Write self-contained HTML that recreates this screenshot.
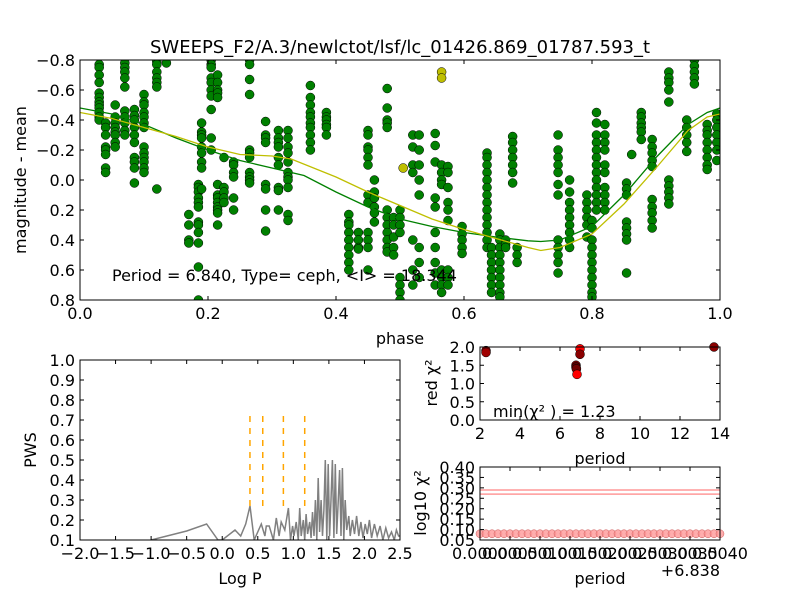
<!DOCTYPE html>
<html><head><meta charset="utf-8"><style>
body{margin:0;background:#fff;}
svg{display:block;font-family:"DejaVu Sans","Liberation Sans",sans-serif;}
text{fill:#000;}
</style></head><body>
<svg id="fig" width="800" height="600" viewBox="0 0 800 600"></svg>
<script>
// ---------- DATA ----------
const clusterPhases=[0.03,0.04,0.055,0.07,0.085,0.1,0.12,0.135,0.17,0.185,0.19,0.205,0.215,0.225,0.24,0.265,0.29,0.31,0.325,0.36,0.385,0.42,0.435,0.45,0.46,0.48,0.49,0.5,0.52,0.53,0.555,0.565,0.575,0.597,0.636,0.643,0.656,0.665,0.676,0.683,0.747,0.765,0.792,0.8,0.807,0.82,0.854,0.862,0.877,0.894,0.92,0.948,0.96,0.98,0.995];
const clusterMags=[
[-0.77,-0.75,-0.7,-0.65,-0.58,-0.55,-0.52,-0.5,-0.48,-0.45,-0.42,-0.4],
[-0.38,-0.35,-0.3,-0.22,-0.2,-0.17,-0.08,-0.05],
[-0.5,-0.42,-0.38,-0.35,-0.32,-0.3,-0.25,-0.22],
[-0.78,-0.75,-0.72,-0.68,-0.62,-0.46,-0.42,-0.38,-0.33,-0.3],
[-0.47,-0.43,-0.4,-0.35,-0.3,-0.25,-0.15,-0.12,-0.08,0.02],
[-0.57,-0.52,-0.5,-0.45,-0.42,-0.38,-0.35,-0.22,-0.18,-0.15,-0.12,-0.08,-0.05],
[-0.79,-0.77,-0.72,-0.68,-0.65,-0.62,0.06],
[-0.78],
[0.23,0.3,0.4,0.42],
[0.03,0.05,0.08,0.12,0.15,0.18,0.28,0.3,0.35,0.42,0.58,0.8],
[-0.38,-0.32,-0.3,-0.28,-0.22,-0.18,-0.12,-0.08,0.06],
[-0.8,-0.77,-0.75,-0.68,-0.65,-0.6,-0.56,-0.47,-0.28,-0.2],
[-0.7,-0.65,-0.6,-0.58,-0.55,0.03,0.1,0.12,0.15,0.18,0.2,0.22,0.3],
[-0.15,0.05,0.08,0.12,0.15],
[-0.12,-0.1,-0.05,-0.02,0.12,0.2],
[-0.8,-0.77,-0.67,-0.57,-0.2,-0.18,-0.15,-0.05,-0.02,0,0.02],
[-0.39,-0.3,-0.28,-0.25,0.03,0.06,0.2,0.34],
[-0.33,-0.28,-0.25,-0.22,-0.15,-0.1,0.05,0.07,0.2],
[-0.33,-0.28,-0.22,-0.18,-0.12,-0.05,-0.02,0,0.05,0.23,0.27],
[-0.63,-0.55,-0.5,-0.45,-0.42,-0.38,-0.35,-0.3,-0.25,-0.2],
[-0.45,-0.42,-0.4,-0.37,-0.35,-0.3],
[0.23,0.28,0.3,0.35,0.4,0.45,0.5,0.55,0.6],
[0.35,0.4,0.45,0.46],
[-0.33,-0.3,-0.22,-0.2,-0.15,-0.1,0.1,0.15,0.35,0.4,0.45,0.6],
[0,0.08,0.12,0.18,0.22,0.28],
[-0.61,-0.48,-0.4,-0.38,-0.35,0.2,0.25,0.3,0.35,0.4,0.45,0.48],
[0.25,0.3,0.38,0.45,0.5],
[0.2,0.25,0.3,0.35,0.65,0.7,0.75,0.8],
[-0.3,-0.22,-0.1,-0.05,0.4,0.6,0.7],
[-0.3,-0.2,-0.1,0,0.1,0.45,0.55,0.65],
[-0.31,-0.23,-0.12,0.12,0.18,0.35,0.45,0.55,0.62,0.7],
[-0.1,-0.05,0,0.03,0.6,0.65,0.7,0.75],
[-0.09,-0.05,0.05,0.15,0.2,0.27,0.6,0.65,0.7],
[0.31,0.36,0.4,0.45,0.49],
[-0.18,-0.15,-0.1,-0.05,0,0.05,0.1,0.15,0.2,0.25,0.3,0.35,0.4,0.45],
[0.45,0.5,0.55,0.6,0.65,0.7,0.75],
[0.36,0.4,0.45,0.5,0.55,0.6,0.65,0.7,0.75,0.78],
[0.4,0.43,0.45],
[-0.29,-0.25,-0.2,-0.15,-0.1,-0.05,0.02],
[0.45,0.5,0.55],
[-0.3,-0.2,-0.15,-0.1,-0.05,0.03,0.1,0.4,0.45,0.5,0.55,0.62],
[0,0.08,0.15,0.2,0.25,0.3,0.35,0.4,0.45],
[0.1,0.15,0.2,0.25,0.3,0.38],
[0.27,0.32,0.4,0.45,0.5,0.55,0.6,0.65,0.7,0.75,0.78],
[-0.45,-0.38,-0.3,-0.25,-0.2,-0.15,-0.1,-0.05,0,0.05,0.1,0.15,0.2],
[-0.37,-0.3,-0.25,-0.2,-0.1,-0.05,0.05,0.1,0.15,0.2],
[0.02,0.06,0.1,0.28,0.32,0.36,0.4,0.62],
[-0.17],
[-0.45,-0.42,-0.38,-0.35,-0.32,-0.27],
[-0.27,-0.22,-0.18,-0.13,-0.09,0.13,0.18,0.22,0.27,0.32],
[-0.72,-0.68,-0.65,-0.6,-0.52,0,0.04,0.08,0.12,0.16],
[-0.4,-0.35,-0.3,-0.25,-0.19],
[-0.8,-0.76,-0.72,-0.68,-0.64],
[-0.37,-0.33,-0.3,-0.25,-0.2,-0.15,-0.1,-0.07],
[-0.44,-0.4,-0.35,-0.3,-0.25,-0.2,-0.13]
];
const yellowPhases=[0.505,0.565,0.565];
const yellowMags=[-0.08,-0.72,-0.68];
const greenCurvePhase=[0,0.05,0.1,0.15,0.2,0.25,0.3,0.35,0.4,0.45,0.5,0.55,0.6,0.65,0.7,0.72,0.75,0.8,0.85,0.9,0.95,0.98,1.0];
const greenCurveMag=[-0.48,-0.44,-0.37,-0.28,-0.2,-0.13,-0.08,-0.03,0.08,0.18,0.26,0.31,0.35,0.38,0.405,0.41,0.4,0.31,0.1,-0.15,-0.37,-0.45,-0.48];
const yellowCurvePhase=[0,0.05,0.1,0.15,0.2,0.25,0.3,0.33,0.4,0.45,0.5,0.55,0.6,0.65,0.7,0.72,0.75,0.8,0.85,0.9,0.95,0.98,1.0];
const yellowCurveMag=[-0.45,-0.41,-0.35,-0.29,-0.22,-0.17,-0.16,-0.14,-0.02,0.08,0.17,0.26,0.33,0.39,0.45,0.47,0.45,0.36,0.16,-0.08,-0.33,-0.42,-0.44];

const pwsLogP=[-1.0,-0.5,-0.22,-0.06,0.0,0.18,0.26,0.33,0.39,0.45,0.55,0.6,0.62,0.66,0.72,0.76,0.8,0.83,0.88,0.93,0.96,0.99,1.01,1.04,1.07,1.09,1.11,1.14,1.16,1.18,1.2,1.23,1.25,1.27,1.29,1.31,1.33,1.35,1.37,1.39,1.41,1.43,1.45,1.47,1.49,1.51,1.53,1.55,1.57,1.59,1.61,1.63,1.65,1.67,1.69,1.71,1.73,1.75,1.78,1.8,1.83,1.86,1.89,1.92,1.95,1.98,2.01,2.04,2.07,2.1,2.14,2.18,2.22,2.26,2.3,2.34,2.38,2.42,2.45,2.48,2.5];
const pwsValues=[0.1,0.145,0.18,0.1,0.1,0.15,0.12,0.18,0.27,0.1,0.18,0.12,0.17,0.17,0.1,0.21,0.12,0.19,0.15,0.26,0.1,0.17,0.12,0.19,0.1,0.26,0.12,0.2,0.1,0.23,0.13,0.19,0.11,0.24,0.12,0.3,0.1,0.41,0.14,0.3,0.12,0.25,0.5,0.1,0.48,0.12,0.3,0.5,0.11,0.48,0.13,0.28,0.45,0.12,0.46,0.1,0.3,0.15,0.22,0.12,0.2,0.13,0.22,0.12,0.19,0.11,0.18,0.13,0.2,0.11,0.18,0.12,0.17,0.1,0.16,0.11,0.14,0.1,0.15,0.12,0.12];
const harmonicLogP=[0.39,0.57,0.86,1.16];

const chiPeriods=[2.3,2.3,6.8,6.8,6.82,6.85,7.0,7.0,13.7];
const chiValues=[1.9,1.85,1.5,1.45,1.4,1.25,1.95,1.8,2.0];
const chiColors=['#8b0000','#a00000','#7a0000','#5a0000','#700000','#ff0000','#ff0000','#8b0000','#8b0000'];

const fineNPoints=41;
const fineChi=0.08;
const fineLines=[0.29,0.27];

// ---------- DRAW ----------
const NS='http://www.w3.org/2000/svg';
const svg=document.getElementById('fig');
const FS=16;
function mk(tag,attrs,parent){const e=document.createElementNS(NS,tag);for(const k in attrs)e.setAttribute(k,attrs[k]);(parent||svg).appendChild(e);return e;}
function txt(x,y,s,opt){const e=mk('text',Object.assign({x:x,y:y,'font-size':FS},opt||{}));e.textContent=s;return e;}
function fmt(v,d){return (v<0?'\u2212':'')+Math.abs(v).toFixed(d);}
function clipRect(id,x,y,w,h){const c=mk('clipPath',{id:id});mk('rect',{x:x,y:y,width:w,height:h},c);}

// Axes 1: light curve
const A={x0:80,x1:720,y0:60,y1:300};
const px=p=>A.x0+(p-0)/(1-0)*(A.x1-A.x0);
const py=m=>A.y0+(m-(-0.8))/(1.6)*(A.y1-A.y0);
clipRect('c1',A.x0,A.y0,A.x1-A.x0,A.y1-A.y0);
const g1=mk('g',{'clip-path':'url(#c1)'});


function curve(ph,mg,color,name){let d='';ph.forEach((p,i)=>{d+=(i?'L':'M')+px(p).toFixed(1)+','+py(mg[i]).toFixed(1);});const e=mk('path',{d:d,fill:'none',stroke:color,'stroke-width':1.3},g1);}
clusterPhases.forEach((p,i)=>{clusterMags[i].forEach(m=>{const c=mk('circle',{cx:px(p),cy:py(m),r:4.5,fill:'#008000',stroke:'#000','stroke-width':0.5},g1);

});});
yellowPhases.forEach((p,i)=>{const c=mk('circle',{cx:px(p),cy:py(yellowMags[i]),r:4.5,fill:'#bfbf00',stroke:'#000','stroke-width':0.5},g1);

});
curve(greenCurvePhase,greenCurveMag,'#008000','green-fit-curve');
curve(yellowCurvePhase,yellowCurveMag,'#bfbf00','yellow-fit-curve');

function frame(x0,y0,x1,y1,name){const r=mk('rect',{x:x0,y:y0,width:x1-x0,height:y1-y0,fill:'none',stroke:'#000','stroke-width':1});}
function xticks(vals,f,y0,y1,labels,fs,dy){vals.forEach((v,i)=>{const x=f(v);mk('line',{x1:x,x2:x,y1:y1,y2:y1-4,stroke:'#000'});mk('line',{x1:x,x2:x,y1:y0,y2:y0+4,stroke:'#000'});const t=txt(x,y1+(dy||19),labels[i],{'text-anchor':'middle','font-size':fs||FS});});}
function yticks(vals,f,x0,x1,labels,fs){vals.forEach((v,i)=>{const y=f(v);mk('line',{x1:x0,x2:x0+4,y1:y,y2:y,stroke:'#000'});mk('line',{x1:x1,x2:x1-4,y1:y,y2:y,stroke:'#000'});const t=txt(x0-5,y+6,labels[i],{'text-anchor':'end','font-size':fs||FS});});}

frame(A.x0,A.y0,A.x1,A.y1,'lightcurve-axes');
const xt1=[0,0.2,0.4,0.6,0.8,1.0];
xticks(xt1,px,A.y0,A.y1,xt1.map(v=>v.toFixed(1)));
const yt1=[-0.8,-0.6,-0.4,-0.2,0,0.2,0.4,0.6,0.8];
yticks(yt1,py,A.x0,A.x1,yt1.map(v=>fmt(v,1)));
let t;
t=txt(400,53,'SWEEPS_F2/A.3/newlctot/lsf/lc_01426.869_01787.593_t',{'text-anchor':'middle','font-size':18});
t=txt(0,0,'magnitude - mean',{'text-anchor':'middle',transform:'translate(26,180) rotate(-90)'});
t=txt(400,344,'phase',{'text-anchor':'middle'});
t=txt(112,281,'Period = 6.840, Type= ceph, <I> = 18.344',{'font-size':16});

// Axes 2: periodogram
const B={x0:80,x1:400,y0:360,y1:540};
const bx=v=>B.x0+(v+2)/4.5*(B.x1-B.x0);
const by=v=>B.y1-(v-0.1)/0.9*(B.y1-B.y0);
clipRect('c2',B.x0,B.y0,B.x1-B.x0,B.y1-B.y0);
const g2=mk('g',{'clip-path':'url(#c2)'});
let d='';pwsLogP.forEach((v,i)=>{d+=(i?'L':'M')+bx(v).toFixed(1)+','+by(pwsValues[i]).toFixed(1);});
const pl=mk('path',{d:d,fill:'none',stroke:'#808080','stroke-width':1.5},g2);


harmonicLogP.forEach(v=>{const l=mk('line',{x1:bx(v),x2:bx(v),y1:by(0.27),y2:by(0.73),stroke:'#ffa500','stroke-width':1.5,'stroke-dasharray':'6,6'},g2);

});
frame(B.x0,B.y0,B.x1,B.y1,'periodogram-axes');
const xt2=[-2,-1.5,-1,-0.5,0,0.5,1,1.5,2,2.5];
xticks(xt2,bx,B.y0,B.y1,xt2.map(v=>fmt(v,1)));
const yt2=[0.1,0.2,0.3,0.4,0.5,0.6,0.7,0.8,0.9,1.0];
yticks(yt2,by,B.x0,B.x1,yt2.map(v=>v.toFixed(1)));
t=txt(0,0,'PWS',{'text-anchor':'middle',transform:'translate(36,450) rotate(-90)'});
t=txt(240,584,'Log P',{'text-anchor':'middle'});

// Axes 3: chi2 vs period
const C={x0:480,x1:720,y0:347,y1:420};
const cx=v=>C.x0+(v-2)/12*(C.x1-C.x0);
const cy=v=>C.y1-v/2*(C.y1-C.y0);
clipRect('c3',C.x0-1,C.y0-5,C.x1-C.x0+2,C.y1-C.y0+5);
const g3=mk('g',{'clip-path':'url(#c3)'});
chiPeriods.forEach((p,i)=>{const c=mk('circle',{cx:cx(p),cy:cy(chiValues[i]),r:4.5,fill:chiColors[i],stroke:'#000','stroke-width':0.5},g3);

});
frame(C.x0,C.y0,C.x1,C.y1,'chi2-axes');
const xt3=[2,4,6,8,10,12,14];
xticks(xt3,cx,C.y0,C.y1,xt3.map(String));
const yt3=[0,0.5,1.0,1.5,2.0];
yticks(yt3,cy,C.x0,C.x1,yt3.map(v=>v.toFixed(1)));
t=txt(0,0,'red χ²',{'text-anchor':'middle',transform:'translate(437,383) rotate(-90)'});
t=txt(600,464,'period',{'text-anchor':'middle'});
t=txt(493,417,'min(χ² ) = 1.23',{'font-size':16});

// Axes 4: fine chi2
const D={x0:480,x1:720,y0:467,y1:540};
const dx=v=>D.x0+v/0.004*(D.x1-D.x0);
const dy=v=>D.y1-(v-0.05)/0.35*(D.y1-D.y0);
fineLines.forEach(v=>{const l=mk('line',{x1:D.x0,x2:D.x1,y1:dy(v),y2:dy(v),stroke:'#ff9999','stroke-width':1.5});

});
for(let i=0;i<fineNPoints;i++){const v=i*0.004/(fineNPoints-1);const c=mk('circle',{cx:dx(v),cy:dy(fineChi),r:4,fill:'#ff9999',stroke:'#cc5555','stroke-width':0.5,'fill-opacity':0.8});

}
frame(D.x0,D.y0,D.x1,D.y1,'fine-chi2-axes');
const xt4=[0,0.0005,0.001,0.0015,0.002,0.0025,0.003,0.0035,0.004];
xticks(xt4,dx,D.y0,D.y1,xt4.map(v=>v.toFixed(4)));
const yt4=[0.05,0.1,0.15,0.2,0.25,0.3,0.35,0.4];
yticks(yt4,dy,D.x0,D.x1,yt4.map(v=>v.toFixed(2)));
t=txt(0,0,'log10 χ²',{'text-anchor':'middle',transform:'translate(426,503) rotate(-90)'});
t=txt(600,584,'period',{'text-anchor':'middle'});
t=txt(720,576,'+6.838',{'text-anchor':'end'});
</script>
</body></html>
